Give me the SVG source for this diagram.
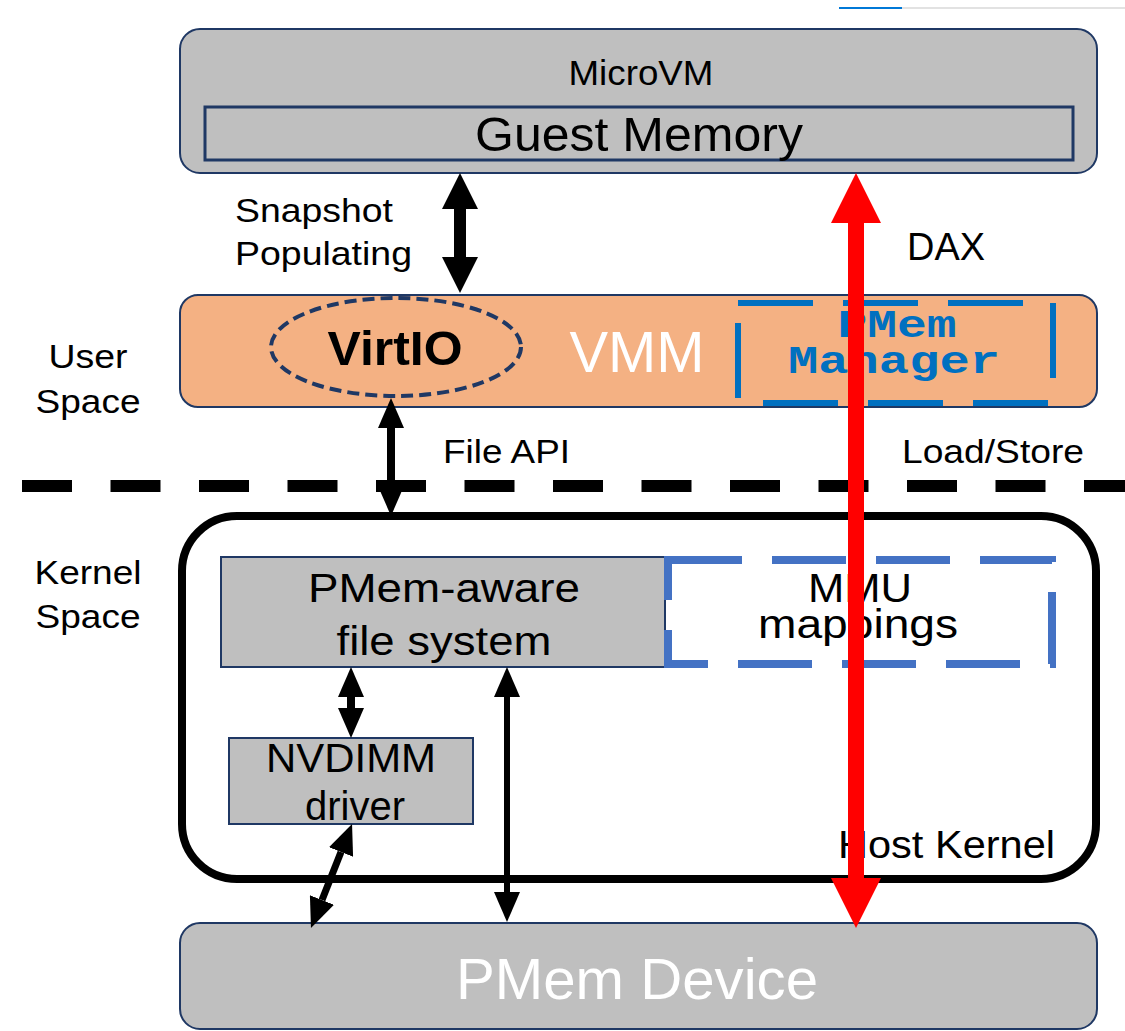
<svg xmlns="http://www.w3.org/2000/svg" width="1125" height="1031" viewBox="0 0 1125 1031">
  <style>
    .t { font-family: "Liberation Sans", Arial, sans-serif; fill: #000; }
    .mid { text-anchor: middle; }
    .white { fill: #ffffff; }
    .mono { font-family: "Liberation Mono", "Courier New", monospace; font-weight: bold; fill: #0070c0; text-anchor: middle; }
    .box { fill: #bfbfbf; stroke: #1f3864; stroke-width: 2; }
    .arrow { stroke: #000; fill: none; }
  </style>
  <defs>
    <marker id="headL" markerUnits="userSpaceOnUse" markerWidth="36" markerHeight="36" refX="0" refY="18" orient="auto-start-reverse" viewBox="0 0 36 36">
      <path d="M0,0 L36,18 L0,36 z" fill="#000"/>
    </marker>
    <marker id="headM" markerUnits="userSpaceOnUse" markerWidth="30" markerHeight="26" refX="0" refY="13" orient="auto-start-reverse" viewBox="0 0 30 26">
      <path d="M0,0 L30,13 L0,26 z" fill="#000"/>
    </marker>
    <marker id="headR" markerUnits="userSpaceOnUse" markerWidth="50" markerHeight="50" refX="0" refY="25" orient="auto-start-reverse" viewBox="0 0 50 50">
      <path d="M0,0 L50,25 L0,50 z" fill="#ff0000"/>
    </marker>
  </defs>

  <rect width="1125" height="1031" fill="#ffffff"/>

  <!-- thin bar along the top edge -->
  <line x1="902" y1="8" x2="1125" y2="8" stroke="#e2e2e2" stroke-width="2"/>
  <line x1="839" y1="8" x2="902" y2="8" stroke="#0078d7" stroke-width="2"/>

  <!-- MicroVM -->
  <g id="microvm">
    <rect class="box" x="180" y="29" width="917" height="144" rx="20"/>
    <text class="t mid" x="641" y="85" font-size="35" textLength="145" lengthAdjust="spacingAndGlyphs">MicroVM</text>
  </g>
  <g id="guest-memory">
    <rect x="205" y="107" width="868" height="53" fill="#bfbfbf" stroke="#1f3864" stroke-width="3"/>
    <text class="t mid" x="639" y="151" font-size="49" textLength="328" lengthAdjust="spacingAndGlyphs">Guest Memory</text>
  </g>

  <!-- VMM -->
  <g id="vmm">
    <rect x="180" y="295" width="917" height="112" rx="18" fill="#f4b183" stroke="#1f3864" stroke-width="2"/>
    <text class="t mid white" x="637" y="372" font-size="58" textLength="135" lengthAdjust="spacingAndGlyphs">VMM</text>
  </g>
  <g id="virtio">
    <ellipse cx="396" cy="347" rx="125" ry="49" fill="none" stroke="#1f3864" stroke-width="4" stroke-dasharray="12 6"/>
    <text class="t mid" x="395" y="365" font-size="48" font-weight="bold" textLength="135" lengthAdjust="spacingAndGlyphs">VirtIO</text>
  </g>
  <g id="pmem-manager">
    <rect x="738" y="303" width="315" height="100" fill="none" stroke="#0070c0" stroke-width="6" stroke-dasharray="75 30"/>
    <text class="mono" x="897" y="337" font-size="38" textLength="119" lengthAdjust="spacingAndGlyphs">PMem</text>
    <text class="mono" x="894" y="373" font-size="38" textLength="212" lengthAdjust="spacingAndGlyphs">Manager</text>
  </g>

  <!-- side labels -->
  <g id="user-space">
    <text class="t mid" x="88" y="368" font-size="33" textLength="79" lengthAdjust="spacingAndGlyphs">User</text>
    <text class="t mid" x="88" y="413" font-size="33" textLength="105" lengthAdjust="spacingAndGlyphs">Space</text>
  </g>
  <g id="kernel-space">
    <text class="t mid" x="88" y="584" font-size="34" textLength="107" lengthAdjust="spacingAndGlyphs">Kernel</text>
    <text class="t mid" x="88" y="628" font-size="34" textLength="105" lengthAdjust="spacingAndGlyphs">Space</text>
  </g>

  <!-- user / kernel boundary -->
  <line id="boundary" x1="22" y1="486" x2="1125" y2="486" stroke="#000" stroke-width="12" stroke-dasharray="50 38.5"/>

  <!-- Host kernel -->
  <g id="host-kernel">
    <rect x="182" y="516" width="914" height="363" rx="55" fill="none" stroke="#000" stroke-width="8"/>
    <text class="t" x="838" y="858" font-size="39" textLength="217" lengthAdjust="spacingAndGlyphs">Host Kernel</text>
  </g>
  <g id="pmem-fs">
    <rect class="box" x="221" y="557" width="444" height="110"/>
    <text class="t mid" x="444" y="602" font-size="40" textLength="272" lengthAdjust="spacingAndGlyphs">PMem-aware</text>
    <text class="t mid" x="444" y="655" font-size="40" textLength="215" lengthAdjust="spacingAndGlyphs">file system</text>
  </g>
  <g id="mmu">
    <rect x="668" y="560" width="384" height="104" fill="none" stroke="#4472c4" stroke-width="8" stroke-dasharray="74 30"/>
    <text class="t mid" x="860" y="602" font-size="40" textLength="104" lengthAdjust="spacingAndGlyphs">MMU</text>
    <text class="t mid" x="858" y="638" font-size="40" textLength="200" lengthAdjust="spacingAndGlyphs">mappings</text>
  </g>
  <g id="nvdimm">
    <rect class="box" x="229" y="738" width="244" height="86"/>
    <text class="t mid" x="351" y="772" font-size="40" textLength="170" lengthAdjust="spacingAndGlyphs">NVDIMM</text>
    <text class="t mid" x="355" y="820" font-size="40">driver</text>
  </g>

  <!-- PMem device -->
  <g id="pmem-device">
    <rect class="box" x="180" y="923" width="917" height="106" rx="20"/>
    <text class="t mid white" x="637" y="999" font-size="57" textLength="362" lengthAdjust="spacingAndGlyphs">PMem Device</text>
  </g>

  <!-- connectors -->
  <g id="connectors">
    <line class="arrow" x1="460" y1="209" x2="460" y2="257" stroke-width="12" marker-start="url(#headL)" marker-end="url(#headL)"/>
    <line class="arrow" x1="391" y1="428" x2="391" y2="486" stroke-width="8" marker-start="url(#headM)" marker-end="url(#headM)"/>
    <line class="arrow" x1="351" y1="697" x2="351" y2="708" stroke-width="8" marker-start="url(#headM)" marker-end="url(#headM)"/>
    <line class="arrow" x1="507" y1="697" x2="507" y2="892" stroke-width="6" marker-start="url(#headM)" marker-end="url(#headM)"/>
    <line class="arrow" x1="341" y1="852" x2="322" y2="900" stroke-width="7" marker-start="url(#headM)" marker-end="url(#headM)"/>
    <line x1="856" y1="223" x2="856" y2="878" stroke="#ff0000" stroke-width="16" marker-start="url(#headR)" marker-end="url(#headR)"/>
  </g>

  <!-- connector labels -->
  <g id="connector-labels">
    <text class="t" x="235" y="222" font-size="34" textLength="158" lengthAdjust="spacingAndGlyphs">Snapshot</text>
    <text class="t" x="235" y="265" font-size="34" textLength="177" lengthAdjust="spacingAndGlyphs">Populating</text>
    <text class="t" x="907" y="260" font-size="38" textLength="78" lengthAdjust="spacingAndGlyphs">DAX</text>
    <text class="t" x="443" y="463" font-size="33" textLength="127" lengthAdjust="spacingAndGlyphs">File API</text>
    <text class="t" x="902" y="463" font-size="33" textLength="182" lengthAdjust="spacingAndGlyphs">Load/Store</text>
  </g>
</svg>
